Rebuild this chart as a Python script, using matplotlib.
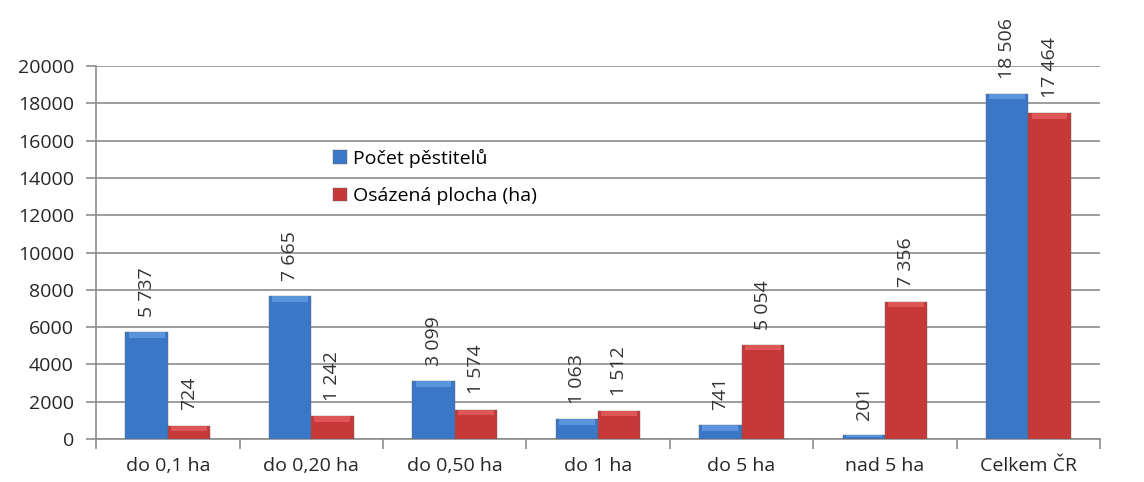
import matplotlib
matplotlib.use('Agg')
import matplotlib.pyplot as plt
import numpy as np

plt.rcParams['font.family'] = ['Open Sans', 'DejaVu Sans']

# Data
categories = ['do 0,1 ha', 'do 0,20 ha', 'do 0,50 ha', 'do 1 ha', 'do 5 ha', 'nad 5 ha', 'Celkem ČR']
growers = [5737, 7665, 3099, 1063, 741, 201, 18506]
area = [724, 1242, 1574, 1512, 5054, 7356, 17464]
yticks = [0, 2000, 4000, 6000, 8000, 10000, 12000, 14000, 16000, 18000, 20000]

blue = '#3a77c6'
blue_top = '#5a94dc'
red = '#c73939'
red_top = '#de5656'

fig = plt.figure(figsize=(11.44, 4.82), dpi=100)
ax = fig.add_axes([0.084, 0.089, 0.8776, 0.774])

x = np.arange(len(categories))
w = 0.295

def draw(vals, offset, col, top_col, label):
    vals = np.array(vals)
    ax.bar(x + offset, vals, w, color=col, edgecolor='#666666', linewidth=0.3, label=label, zorder=3)
    bevel = np.minimum(300, vals * 0.5)
    ax.bar(x + offset, bevel, w * 0.85, bottom=vals - bevel, color=top_col, linewidth=0, zorder=4)
    for xi, v in zip(x, vals):
        ax.annotate(f'{v:,}'.replace(',', ' '), (xi + offset, v), xytext=(0, 11),
                    textcoords='offset points', rotation=90, ha='center', va='bottom',
                    fontsize=14, color='#333333')

draw(growers, -w / 2, blue, blue_top, 'Počet pěstitelů')
draw(area, w / 2, red, red_top, 'Osázená plocha (ha)')

ax.set_xlim(-0.5, len(categories) - 0.5)
ax.set_ylim(0, 20000)
ax.set_yticks(yticks)
ax.set_yticklabels([str(t) for t in yticks])
ax.set_xticks(x)
ax.set_xticklabels(categories)
ax.set_xticks(np.arange(-0.5, len(categories), 1), minor=True)
ax.tick_params(axis='x', which='major', length=0, pad=13, labelsize=14, labelcolor='#262626')
ax.tick_params(axis='x', which='minor', length=7, color='#8c8c8c', width=1.2)
ax.tick_params(axis='y', length=7, pad=9, color='#8c8c8c', width=1.2, labelsize=14, labelcolor='#262626')
ax.grid(axis='y', color='#8c8c8c', linewidth=1.2, zorder=0)
for s in ['top', 'right']:
    ax.spines[s].set_visible(False)
for s in ['left', 'bottom']:
    ax.spines[s].set_color('#8c8c8c')
    ax.spines[s].set_linewidth(1.2)

ax.legend(loc='upper left', bbox_to_anchor=(0.219, 0.825), frameon=False, fontsize=14,
          handlelength=0.7, handleheight=0.7, handletextpad=0.3, labelspacing=1.0)

fig.savefig('out.png', dpi=100)
